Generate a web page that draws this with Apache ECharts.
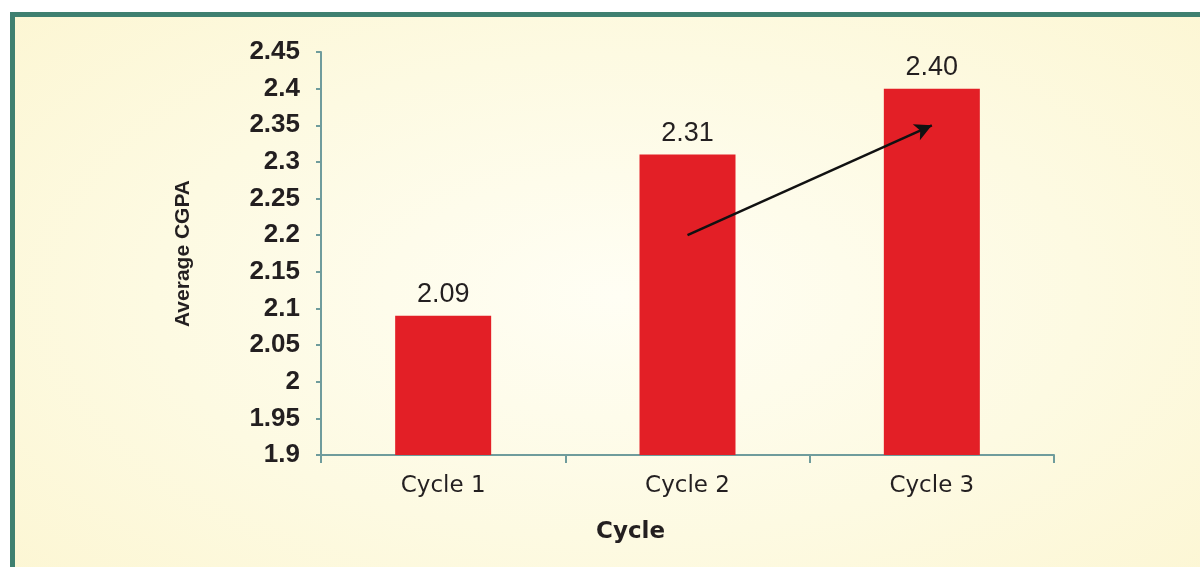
<!DOCTYPE html>
<html>
<head>
<meta charset="utf-8">
<script src="https://cdn.jsdelivr.net/npm/echarts@6/dist/echarts.min.js"></script>
<style>
html,body{margin:0;padding:0;background:#fff;width:1200px;height:567px;overflow:hidden;}
#frame{position:absolute;left:10px;top:12px;width:1260px;height:620px;border:5px solid #3f8070;
background:radial-gradient(ellipse at 48% 45%, #fffef4 0%, #fdfae2 50%, #fcf5cf 100%);}
#chart{position:absolute;left:0;top:0;width:1200px;height:567px;}
</style>
</head>
<body>
<div id="frame"></div>
<div id="chart"></div>
<script>
const categories = ['Cycle 1', 'Cycle 2', 'Cycle 3'];
const averageCGPA = [2.09, 2.31, 2.40];
const yMin = 1.9, yMax = 2.45, yStep = 0.05;
const trendArrow = [['Cycle 2', 2.2], ['Cycle 3', 2.35]];

const chart = echarts.init(document.getElementById('chart'), null, {renderer: 'canvas'});
chart.setOption({
  backgroundColor: 'transparent',
  animation: false,
  grid: {left: 321, top: 52, right: 146, bottom: 112, containLabel: false},
  xAxis: {
    type: 'category',
    data: categories,
    name: 'Cycle',
    nameLocation: 'middle',
    nameGap: 66,
    nameTextStyle: {fontFamily: 'DejaVu Sans', fontWeight: 'bold', fontSize: 23, color: '#231f20', padding: [0, 114, 0, 0]},
    axisLine: {lineStyle: {color: '#6f9c9c', width: 2}},
    axisTick: {show: true, length: 8, lineStyle: {color: '#6f9c9c', width: 2}},
    axisLabel: {margin: 20, fontFamily: 'DejaVu Sans', fontSize: 23, color: '#231f20'}
  },
  yAxis: {
    type: 'value',
    min: yMin, max: yMax, interval: yStep,
    name: 'Average CGPA',
    nameLocation: 'middle',
    nameRotate: 90,
    nameGap: 127,
    nameTextStyle: {fontFamily: 'Liberation Sans', fontWeight: 'bold', fontSize: 21, color: '#231f20'},
    axisLine: {show: true, lineStyle: {color: '#6f9c9c', width: 2}},
    axisTick: {show: true, length: 5, lineStyle: {color: '#6f9c9c', width: 2}},
    splitLine: {show: false},
    axisLabel: {
      margin: 21,
      fontFamily: 'Liberation Sans',
      fontWeight: 'bold', fontSize: 26, color: '#231f20',
      formatter: v => String(+v.toFixed(2))
    }
  },
  series: [{
    type: 'bar',
    data: averageCGPA,
    barWidth: 96,
    itemStyle: {color: '#e31f26'},
    label: {
      show: true, position: 'top', distance: 8,
      fontFamily: 'Liberation Sans', fontSize: 27, color: '#231f20',
      formatter: p => p.value.toFixed(2)
    },
    markLine: {
      silent: true,
      symbol: ['none', 'arrow'],
      symbolSize: [13, 17],
      label: {show: false},
      lineStyle: {color: '#111', width: 2.5, type: 'solid'},
      data: [[{coord: trendArrow[0]}, {coord: trendArrow[1]}]]
    }
  }]
});
</script>
</body>
</html>
